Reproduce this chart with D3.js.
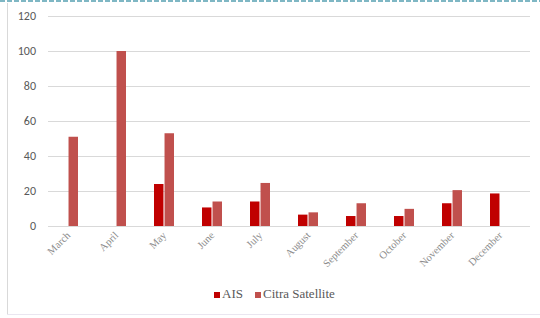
<!DOCTYPE html>
<html>
<head>
<meta charset="utf-8">
<script src="https://cdn.jsdelivr.net/npm/d3@7"></script>
<style>
  body { margin: 0; background: #fff; }
  svg { display: block; }
</style>
</head>
<body>
<div id="chart"></div>
<script>
const months = ["March", "April", "May", "June", "July", "August", "September", "October", "November", "December"]
const aisValues = [0, 0, 24, 10.6, 14, 6.5, 5.7, 5.7, 13, 18.6]
const citraValues = [51, 100, 53, 14, 24.6, 7.8, 13, 9.8, 20.5, 0]
const seriesNames = ["AIS", "Citra Satellite"]
const seriesColors = ["#C00000", "#C0504D"]
const yTicks = [0, 20, 40, 60, 80, 100, 120]

const width = 540, height = 318
const serif = "'Liberation Serif', 'DejaVu Serif', Times, serif"

const svg = d3.select("#chart")
  .append("svg")
  .attr("width", width)
  .attr("height", height)

// frame
svg.append("line")
  .attr("x1", 0).attr("x2", width).attr("y1", 1).attr("y2", 1)
  .style("stroke", "#7fb7c4").style("stroke-width", 2).style("stroke-dasharray", "5,2")
svg.append("line")
  .attr("x1", 7.5).attr("x2", 7.5).attr("y1", 3).attr("y2", 314)
  .style("stroke", "#d9d9d9")
svg.append("line")
  .attr("x1", 7).attr("x2", width).attr("y1", 314.5).attr("y2", 314.5)
  .style("stroke", "#eae6f0")

const x = d3.scaleBand()
  .domain(months)
  .range([44, 524])

const sub = d3.scaleBand()
  .domain(seriesNames)
  .range([x.bandwidth() / 2 - 10, x.bandwidth() / 2 + 10])
  .paddingInner(0.1)

const y = d3.scaleLinear()
  .domain([0, 120])
  .range([226, 16])

// gridlines + y labels
const yAxis = svg.append("g")
  .attr("transform", "translate(48,0)")
  .call(d3.axisLeft(y).tickValues(yTicks).tickSize(-482).tickPadding(12))
yAxis.select(".domain").remove()
yAxis.selectAll(".tick line").style("stroke", "#d9d9d9").style("stroke-width", 1.2)
yAxis.selectAll(".tick text")
  .style("fill", "#595959")
  .style("font-family", "Carlito, 'Liberation Sans', sans-serif")
  .style("font-size", "12px")

const data = months.map((m, i) => ({month: m, values: [aisValues[i], citraValues[i]]}))

const groups = svg.selectAll("g.month")
  .data(data)
  .enter()
  .append("g")
  .attr("class", "month")
  .attr("transform", d => `translate(${x(d.month)},0)`)

groups.selectAll("rect")
  .data(d => d.values.map((v, j) => ({name: seriesNames[j], value: v, color: seriesColors[j]})))
  .enter()
  .append("rect")
  .filter(d => d.value > 0)
  .attr("x", d => sub(d.name))
  .attr("width", sub.bandwidth())
  .attr("y", d => y(d.value))
  .attr("height", d => y(0) - y(d.value))
  .style("fill", d => d.color)

// x labels
svg.append("g")
  .selectAll("text")
  .data(months)
  .enter()
  .append("text")
  .attr("transform", d => `translate(${x(d) + x.bandwidth() / 2 + 3},236) rotate(-45)`)
  .attr("text-anchor", "end")
  .attr("font-family", serif)
  .attr("font-size", 10.5)
  .attr("fill", "#8c8c8c")
  .text(d => d)

// legend
const legend = svg.append("g")
  .attr("transform", "translate(214,298)")
const items = legend.selectAll("g")
  .data(seriesNames)
  .enter()
  .append("g")
  .attr("transform", (d, i) => `translate(${i * 41},0)`)
items.append("rect")
  .attr("x", 0).attr("y", -6).attr("width", 6).attr("height", 6)
  .style("fill", (d, i) => seriesColors[i])
items.append("text")
  .attr("x", 8).attr("y", 0)
  .attr("font-family", serif)
  .attr("font-size", 13)
  .attr("fill", "#595959")
  .text(d => d)
</script>
</body>
</html>
